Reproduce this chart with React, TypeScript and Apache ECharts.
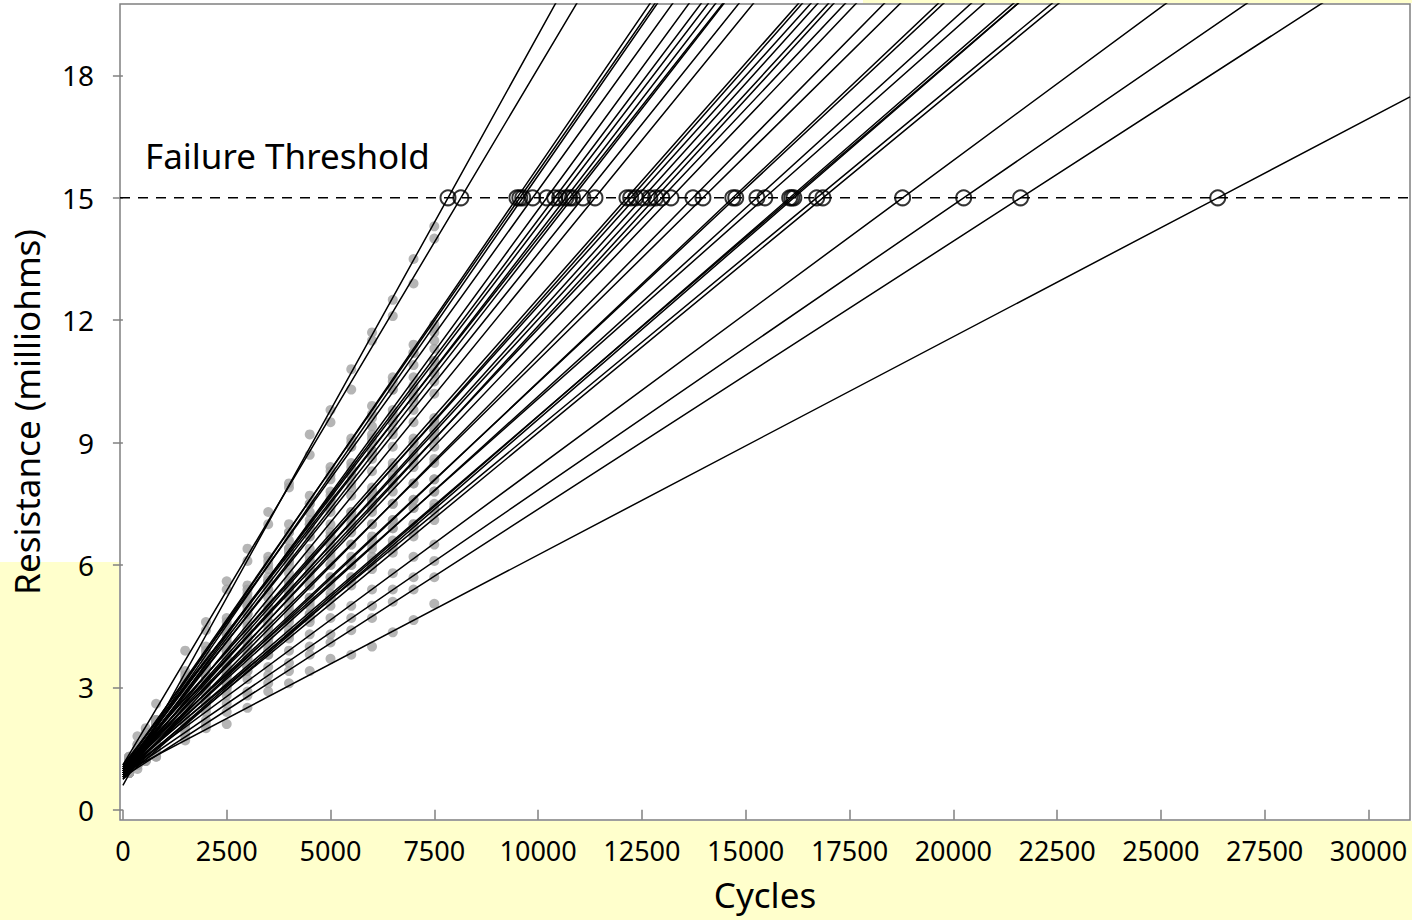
import React, { useEffect, useRef } from "react";
import * as echarts from "echarts";

// Measurement times (cycles) at which resistance was read
const measureCycles = [150, 350, 550, 800, 1500, 2000, 2500, 3000, 3500, 4000, 4500, 5000, 5500, 6000, 6500, 7000, 7500];

// Estimated cycles at which each unit's fitted line crosses the failure threshold
const failCycles = [
  7830, 8140, 9490, 9560, 9630, 9870, 10210, 10400, 10520, 10670, 10760, 10830, 11080, 11370,
  12140, 12230, 12350, 12520, 12690, 12830, 12980, 13200, 13730, 13970, 14690, 14760, 15270,
  15460, 16060, 16110, 16160, 16710, 16860, 18780, 20250, 21620, 26370,
];

// Fitted intercepts (resistance at 0 cycles)
const intercepts = [
  0.6, 1.1, 0.9, 1.0, 0.85, 1.05, 0.8, 0.95, 1.0, 0.9, 1.1, 0.85, 0.95, 0.8,
  1.0, 0.9, 1.05, 0.85, 0.95, 0.75, 1.0, 0.9, 0.8, 1.0, 0.85, 0.95, 0.9,
  1.05, 0.8, 0.9, 0.75, 0.95, 0.85, 0.9, 0.85, 0.8, 0.9,
];

// Observed readings per unit (milliohms) at measureCycles
const readings = [
  [0.9, 1.3, 1.7, 2.2, 3.4, 4.6, 5.6, 6.4, 7.3, 8.0, 9.2, 9.8, 10.8, 11.7, 12.5, 13.5, 14.3],
  [1.3, 1.8, 2.0, 2.6, 3.9, 4.4, 5.4, 6.1, 7.0, 7.9, 8.7, 9.5, 10.3, 11.5, 12.1, 12.9, 14.0],
  [1.1, 1.5, 1.7, 2.2, 3.0, 4.0, 4.5, 5.5, 6.0, 7.0, 7.5, 8.4, 9.0, 9.9, 10.5, 11.4, 11.9],
  [1.2, 1.6, 1.8, 2.1, 3.3, 3.8, 4.7, 5.3, 6.2, 6.8, 7.7, 8.2, 9.1, 9.7, 10.6, 11.2, 11.7],
  [1.0, 1.4, 1.6, 2.1, 3.1, 3.7, 4.6, 5.2, 6.1, 6.6, 7.5, 8.3, 8.9, 9.6, 10.3, 11.2, 11.8],
  [1.3, 1.5, 1.9, 2.2, 3.2, 3.9, 4.5, 5.4, 5.9, 6.8, 7.3, 8.1, 8.9, 9.4, 10.3, 10.9, 11.5],
  [1.0, 1.3, 1.6, 1.9, 2.8, 3.6, 4.3, 5.0, 5.6, 6.4, 7.1, 7.7, 8.5, 9.2, 9.8, 10.6, 11.3],
  [1.2, 1.4, 1.7, 2.0, 3.0, 3.7, 4.3, 5.1, 5.6, 6.4, 7.0, 7.8, 8.3, 9.1, 9.7, 10.4, 11.0],
  [1.2, 1.5, 1.7, 2.1, 2.9, 3.7, 4.4, 4.9, 5.7, 6.3, 7.0, 7.6, 8.4, 9.0, 9.6, 10.3, 11.0],
  [1.1, 1.4, 1.6, 2.0, 2.9, 3.5, 4.2, 4.8, 5.6, 6.1, 6.9, 7.5, 8.2, 8.8, 9.5, 10.2, 10.7],
  [1.3, 1.6, 1.8, 2.1, 3.1, 3.6, 4.4, 5.0, 5.6, 6.3, 6.9, 7.6, 8.2, 8.8, 9.5, 10.1, 10.8],
  [1.0, 1.3, 1.6, 1.9, 2.8, 3.5, 4.1, 4.8, 5.4, 6.1, 6.7, 7.4, 8.0, 8.7, 9.3, 10.0, 10.7],
  [1.1, 1.4, 1.7, 2.0, 2.9, 3.5, 4.1, 4.8, 5.4, 6.0, 6.7, 7.3, 7.9, 8.6, 9.2, 9.8, 10.5],
  [1.0, 1.2, 1.5, 1.8, 2.7, 3.3, 3.9, 4.6, 5.2, 5.8, 6.4, 7.0, 7.7, 8.3, 8.9, 9.5, 10.2],
  [1.2, 1.4, 1.6, 1.9, 2.7, 3.3, 3.9, 4.5, 5.0, 5.6, 6.2, 6.8, 7.3, 7.9, 8.5, 9.1, 9.6],
  [1.1, 1.3, 1.5, 1.8, 2.6, 3.2, 3.8, 4.4, 4.9, 5.5, 6.1, 6.7, 7.2, 7.8, 8.4, 9.0, 9.5],
  [1.2, 1.5, 1.7, 2.0, 2.8, 3.3, 3.9, 4.4, 5.0, 5.6, 6.1, 6.7, 7.3, 7.8, 8.4, 9.0, 9.5],
  [1.0, 1.2, 1.5, 1.7, 2.5, 3.1, 3.7, 4.2, 4.8, 5.4, 5.9, 6.5, 7.1, 7.6, 8.2, 8.8, 9.3],
  [1.1, 1.3, 1.6, 1.8, 2.6, 3.2, 3.7, 4.3, 4.8, 5.4, 5.9, 6.5, 7.0, 7.6, 8.1, 8.7, 9.3],
  [0.9, 1.1, 1.4, 1.6, 2.4, 3.0, 3.5, 4.1, 4.6, 5.2, 5.8, 6.3, 6.9, 7.4, 8.0, 8.5, 9.1],
  [1.2, 1.4, 1.6, 1.9, 2.6, 3.2, 3.7, 4.2, 4.8, 5.3, 5.9, 6.4, 6.9, 7.5, 8.0, 8.6, 9.1],
  [1.1, 1.3, 1.5, 1.8, 2.5, 3.0, 3.6, 4.1, 4.6, 5.2, 5.7, 6.2, 6.8, 7.3, 7.8, 8.4, 8.9],
  [1.0, 1.2, 1.4, 1.6, 2.3, 2.9, 3.4, 3.9, 4.4, 4.9, 5.5, 6.0, 6.5, 7.0, 7.5, 8.0, 8.6],
  [1.2, 1.4, 1.5, 1.8, 2.5, 3.0, 3.5, 4.0, 4.5, 5.0, 5.5, 6.0, 6.5, 7.0, 7.5, 8.0, 8.5],
  [1.0, 1.2, 1.4, 1.6, 2.3, 2.8, 3.3, 3.7, 4.2, 4.7, 5.2, 5.7, 6.1, 6.6, 7.1, 7.6, 8.1],
  [1.1, 1.3, 1.5, 1.7, 2.4, 2.9, 3.3, 3.8, 4.3, 4.8, 5.2, 5.7, 6.2, 6.7, 7.1, 7.6, 8.1],
  [1.0, 1.2, 1.4, 1.6, 2.3, 2.7, 3.2, 3.7, 4.1, 4.6, 5.0, 5.5, 6.0, 6.4, 6.9, 7.4, 7.8],
  [1.2, 1.4, 1.5, 1.8, 2.4, 2.9, 3.3, 3.8, 4.2, 4.7, 5.1, 5.6, 6.0, 6.5, 6.9, 7.4, 7.8],
  [0.9, 1.1, 1.3, 1.5, 2.1, 2.6, 3.0, 3.5, 3.9, 4.3, 4.8, 5.2, 5.7, 6.1, 6.5, 7.0, 7.4],
  [1.0, 1.2, 1.4, 1.6, 2.2, 2.7, 3.1, 3.5, 4.0, 4.4, 4.8, 5.3, 5.7, 6.2, 6.6, 7.0, 7.5],
  [0.9, 1.1, 1.2, 1.5, 2.1, 2.5, 3.0, 3.4, 3.8, 4.3, 4.7, 5.2, 5.6, 6.0, 6.5, 6.9, 7.4],
  [1.1, 1.2, 1.4, 1.6, 2.2, 2.6, 3.1, 3.5, 3.9, 4.3, 4.7, 5.2, 5.6, 6.0, 6.4, 6.8, 7.3],
  [1.0, 1.1, 1.3, 1.5, 2.1, 2.5, 2.9, 3.4, 3.8, 4.2, 4.6, 5.0, 5.5, 5.9, 6.3, 6.7, 7.1],
  [1.0, 1.2, 1.3, 1.5, 2.0, 2.4, 2.8, 3.2, 3.5, 3.9, 4.3, 4.7, 5.0, 5.4, 5.8, 6.2, 6.5],
  [0.9, 1.1, 1.2, 1.4, 1.9, 2.2, 2.6, 2.9, 3.3, 3.6, 4.0, 4.3, 4.7, 5.0, 5.4, 5.7, 6.1],
  [0.9, 1.0, 1.2, 1.3, 1.8, 2.1, 2.4, 2.8, 3.1, 3.4, 3.8, 4.1, 4.4, 4.7, 5.1, 5.4, 5.7],
  [1.0, 1.1, 1.2, 1.3, 1.7, 2.0, 2.1, 2.5, 2.9, 3.1, 3.4, 3.7, 3.8, 4.0, 4.35, 4.65, 5.05],
];

const threshold = 15;
const xTicks = [0, 2500, 5000, 7500, 10000, 12500, 15000, 17500, 20000, 22500, 25000, 27500, 30000];
const yTicks = [0, 3, 6, 9, 12, 15, 18];
const X_MIN = -70;
const X_MAX = 31000;
const Y_MIN = -0.25;
const Y_MAX = 19.75;

const FONT = "'Noto Sans', 'Open Sans', sans-serif";
const AXIS_GRAY = "#808080";
const YELLOW = "#ffffcc";

export default function App() {
  const ref = useRef<HTMLDivElement>(null);

  useEffect(() => {
    if (!ref.current) return;
    const chart = echarts.init(ref.current, undefined, { renderer: "svg" });

    const dots: number[][] = [];
    readings.forEach((arr) => {
      arr.forEach((v, j) => dots.push([measureCycles[j], v]));
    });

    const unitLines = failCycles.map((T, i) => {
      const a = intercepts[i];
      const slope = (threshold - a) / T;
      return {
        type: "line",
        data: [
          [0, a],
          [T, threshold],
          [X_MAX, a + slope * X_MAX],
        ],
        symbol: "none",
        silent: true,
        z: 3,
        lineStyle: { color: "#000", width: 1.5 },
      };
    });

    chart.setOption({
      animation: false,
      backgroundColor: "#fff",
      textStyle: { fontFamily: FONT },
      grid: {
        left: 120,
        right: 2,
        top: 4,
        bottom: 100,
        show: true,
        borderColor: AXIS_GRAY,
        borderWidth: 1.5,
        backgroundColor: "#fff",
        containLabel: false,
      },
      xAxis: {
        type: "value",
        min: X_MIN,
        max: X_MAX,
        name: "Cycles",
        nameLocation: "middle",
        nameGap: 57,
        nameTextStyle: { fontSize: 35, color: "#000", fontFamily: FONT },
        axisLine: { show: false },
        axisTick: {
          show: true,
          length: 10,
          customValues: xTicks,
          lineStyle: { color: AXIS_GRAY, width: 1.5 },
        },
        axisLabel: {
          customValues: xTicks,
          fontSize: 27,
          color: "#000",
          margin: 17,
          fontFamily: FONT,
          formatter: (v: number) => String(v),
        },
        splitLine: { show: false },
      },
      yAxis: {
        type: "value",
        min: Y_MIN,
        max: Y_MAX,
        name: "Resistance (milliohms)",
        nameLocation: "middle",
        nameGap: 76,
        nameTextStyle: { fontSize: 35, color: "#000", fontFamily: FONT },
        axisLine: { show: false },
        axisTick: {
          show: true,
          length: 10,
          customValues: yTicks,
          lineStyle: { color: AXIS_GRAY, width: 1.5 },
        },
        axisLabel: {
          customValues: yTicks,
          fontSize: 28,
          color: "#000",
          margin: 26,
          fontFamily: FONT,
          formatter: (v: number) => String(v),
        },
        splitLine: { show: false },
      },
      graphic: [
        { type: "rect", z: -10, silent: true, shape: { x: 0, y: 562, width: 119, height: 358 }, style: { fill: YELLOW } },
        { type: "rect", z: -10, silent: true, shape: { x: 0, y: 821, width: 1412, height: 99 }, style: { fill: YELLOW } },
        { type: "rect", z: -10, silent: true, shape: { x: 863, y: 0, width: 549, height: 3 }, style: { fill: YELLOW } },
        {
          type: "text",
          z: 10,
          silent: true,
          x: 145,
          y: 155,
          style: {
            text: "Failure Threshold",
            font: `35px ${FONT}`,
            fill: "#000",
            textVerticalAlign: "middle",
            textAlign: "left",
          },
        },
      ],
      series: [
        {
          type: "scatter",
          data: dots,
          symbol: "circle",
          symbolSize: 10,
          silent: true,
          z: 2,
          itemStyle: { color: "#a3a3a3" },
        },
        {
          type: "line",
          data: [
            [X_MIN, threshold],
            [X_MAX, threshold],
          ],
          symbol: "none",
          silent: true,
          z: 3,
          lineStyle: { color: "#000", width: 1.5, type: [10, 8] },
        },
        ...unitLines,
        {
          type: "scatter",
          data: failCycles.map((T) => [T, threshold]),
          symbol: "circle",
          symbolSize: 15,
          silent: true,
          z: 5,
          itemStyle: { color: "rgba(0,0,0,0)", borderColor: "#000", borderWidth: 2 },
        },
      ],
    });

    return () => chart.dispose();
  }, []);

  return (
    <div
      ref={ref}
      style={{ position: "fixed", left: 0, top: 0, width: 1412, height: 920 }}
    />
  );
}
